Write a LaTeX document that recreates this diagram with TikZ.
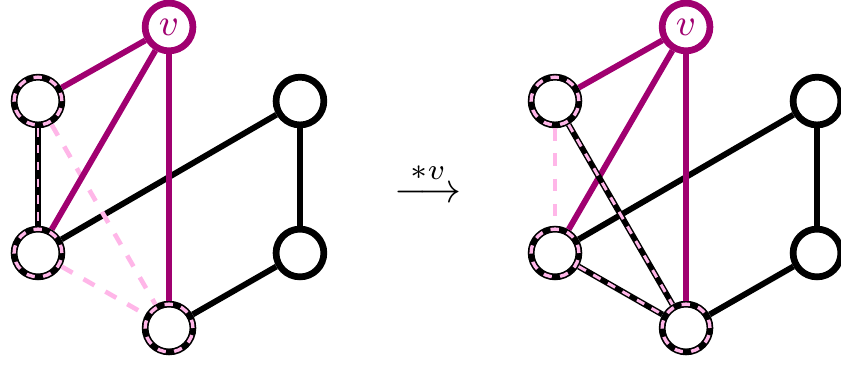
\documentclass[tikz,border=0pt]{standalone}
\usepackage{amsmath,amssymb}
\usepackage{tikz}

\definecolor{vcol}{RGB}{160,0,112}
\definecolor{mark}{RGB}{255,182,232}

\tikzset{
  vert/.style={draw,circle,fill=white,line width=1.6pt,minimum size=0.40cm,inner sep=0pt},
  hitvert/.style={vert,postaction={draw=mark,line width=0.8pt,dash pattern=on 2pt off 2pt}},
  vvert/.style={vert,draw=vcol,text=vcol,font=\small},
  edge/.style={line width=1.4pt},
  vedge/.style={edge,draw=vcol},
  hitedge/.style={edge,postaction={draw=mark,line width=0.7pt,dash pattern=on 2pt off 2pt}},
  gone/.style={draw=mark,line width=1.1pt,dash pattern=on 3pt off 3pt}
}

\begin{document}
\begin{tikzpicture}
\useasboundingbox (0,0) rectangle (7.04,3.064);
% before
\node[vvert] (v) at (1.415,2.838) {$v$};
\node[hitvert] (a) at (0.318,2.218) {};
\node[hitvert] (b) at (0.318,0.946) {};
\node[hitvert] (c) at (1.415,0.318) {};
\node[vert] (d) at (2.511,2.218) {};
\node[vert] (e) at (2.511,0.946) {};
\draw[edge] (b) -- (d);
\draw[edge] (d) -- (e);
\draw[edge] (e) -- (c);
\draw[gone] (a) -- (c);
\draw[gone] (b) -- (c);
\draw[hitedge] (a) -- (b);
\draw[vedge] (v) -- (a);
\draw[vedge] (v) -- (b);
\draw[vedge] (v) -- (c);

\node (op) at (3.583,1.54) {$\overset{*v}{\longrightarrow}$};

% after
\node[vvert] (v2) at (5.743,2.838) {$v$};
\node[hitvert] (a2) at (4.646,2.218) {};
\node[hitvert] (b2) at (4.646,0.946) {};
\node[hitvert] (c2) at (5.743,0.318) {};
\node[vert] (d2) at (6.839,2.218) {};
\node[vert] (e2) at (6.839,0.946) {};
\draw[edge] (b2) -- (d2);
\draw[edge] (d2) -- (e2);
\draw[edge] (e2) -- (c2);
\draw[gone] (a2) -- (b2);
\draw[vedge] (v2) -- (a2);
\draw[vedge] (v2) -- (b2);
\draw[vedge] (v2) -- (c2);
\draw[hitedge] (a2) -- (c2);
\draw[hitedge] (b2) -- (c2);
\end{tikzpicture}
\end{document}
